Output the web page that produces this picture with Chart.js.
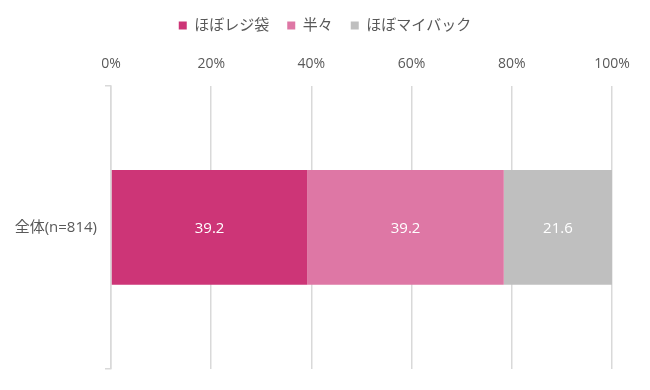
<!DOCTYPE html>
<html lang="ja">
<head>
  <meta charset="UTF-8" />
  <title>レジ袋とマイバッグ</title>
  <script src="https://cdn.jsdelivr.net/npm/chart.js"></script>
  <style>
    body { margin: 0; background: #fff; }
    #wrap { width: 650px; height: 390px; }
  </style>
</head>
<body>
  <div id="wrap"><canvas id="bagChart" width="650" height="390"></canvas></div>
  <script>
    // データ
    const categories = ['全体(n=814)'];
    const seriesNames = ['ほぼレジ袋', '半々', 'ほぼマイバック'];
    const reziBukuro = [39.2];
    const hanhan = [39.2];
    const myBag = [21.6];
    const xTicks = [0, 20, 40, 60, 80, 100];

    const colors = ['#CD3577', '#DE77A5', '#BFBFBF'];
    const FONT = "'Open Sans', 'Noto Sans CJK JP', sans-serif";

    // 棒の中央に数値を書く
    const barLabels = {
      id: 'barLabels',
      afterDatasetsDraw(chart) {
        const ctx = chart.ctx;
        ctx.save();
        ctx.fillStyle = '#fff';
        ctx.font = '15px ' + FONT;
        ctx.textAlign = 'center';
        ctx.textBaseline = 'middle';
        chart.data.datasets.forEach((ds, i) => {
          chart.getDatasetMeta(i).data.forEach((bar, j) => {
            const c = bar.getCenterPoint();
            ctx.fillText(ds.data[j].toFixed(1), c.x, c.y + 1);
          });
        });
        ctx.restore();
      }
    };

    new Chart(document.getElementById('bagChart'), {
      type: 'bar',
      data: {
        labels: categories,
        datasets: [
          { label: seriesNames[0], data: reziBukuro, backgroundColor: colors[0] },
          { label: seriesNames[1], data: hanhan, backgroundColor: colors[1] },
          { label: seriesNames[2], data: myBag, backgroundColor: colors[2] }
        ]
      },
      options: {
        indexAxis: 'y',
        responsive: false,
        animation: false,
        layout: { padding: { left: 0, right: 0, top: 0, bottom: 21 } },
        datasets: { bar: { barPercentage: 0.405, categoryPercentage: 1 } },
        scales: {
          x: {
            position: 'top',
            stacked: true,
            min: 0,
            max: 100,
            afterBuildTicks: s => { s.ticks = xTicks.map(v => ({ value: v })); },
            ticks: {
              callback: v => v + '%',
              color: '#595959',
              font: { family: FONT, size: 14 },
              padding: 13
            },
            grid: { color: '#D9D9D9', drawTicks: false, lineWidth: 1.5 },
            border: { display: false }
          },
          y: {
            stacked: true,
            ticks: {
              color: '#595959',
              font: { family: FONT, size: 15 },
              padding: 8
            },
            grid: { offset: true, drawOnChartArea: false, tickLength: 6, color: '#D9D9D9', lineWidth: 1.5 },
            border: { color: '#D9D9D9', width: 1.5 },
            afterFit: s => { s.width = 111; }
          },
          // 右側の余白用 (表示なし)
          yRight: {
            type: 'category',
            position: 'right',
            ticks: { display: false },
            grid: { display: false },
            border: { display: false },
            afterFit: s => { s.width = 38; }
          }
        },
        plugins: {
          legend: {
            position: 'top',
            labels: {
              usePointStyle: true,
              pointStyle: 'rect',
              boxWidth: 8,
              boxHeight: 8,
              color: '#595959',
              font: { family: FONT, size: 15 },
              padding: 18
            }
          },
          tooltip: { enabled: false }
        }
      },
      plugins: [barLabels]
    });
  </script>
</body>
</html>
